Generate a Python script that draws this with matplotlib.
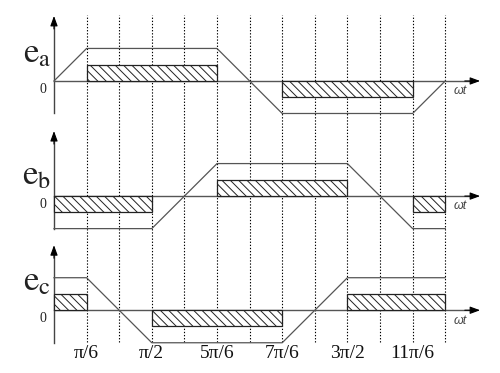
import numpy as np
import matplotlib
matplotlib.use('Agg')
import matplotlib.pyplot as plt
from matplotlib.patches import Rectangle

plt.rcParams['mathtext.fontset'] = 'stix'
plt.rcParams['hatch.linewidth'] = 0.7

# back-emf corners, x in units of pi/6, y in units of E
ea_t = [0, 1, 5, 7, 11, 12]
ea_v = [0, 1, 1, -1, -1, 0]
eb_t = [0, 3, 5, 9, 11, 12]
eb_v = [-1, -1, 1, 1, -1, -1]
ec_t = [0, 1, 3, 7, 9, 12]
ec_v = [1, 1, -1, -1, 1, 1]

# phase current blocks: (start, end, level)
ia = [(1, 5, 0.5), (7, 11, -0.5)]
ib = [(0, 3, -0.5), (5, 9, 0.5), (11, 12, -0.5)]
ic = [(0, 1, 0.5), (3, 7, -0.5), (9, 12, 0.5)]

names = [r'$\mathrm{e}_\mathrm{a}$', r'$\mathrm{e}_\mathrm{b}$', r'$\mathrm{e}_\mathrm{c}$']
name_y = [0.9, 0.68, 0.92]
offsets = [0, -3.54, -7.05]

tick_k = [1, 3, 5, 7, 9, 11]
tick_lbl = ['π/6', 'π/2', '5π/6', '7π/6', '3π/2', '11π/6']

fig = plt.figure(figsize=(5, 3.73), dpi=100)
ax = fig.add_axes([0, 0, 1, 1])
ax.set_xlim(-1.656, 13.68)
ax.set_ylim(-8.98, 2.49)
ax.axis('off')

# dotted grid lines
for k in range(1, 13):
    ax.plot([k, k], [-8.03, 2.03], color='k', ls=(0, (1.2, 1.6)), lw=0.8)

waves = [(ea_t, ea_v, ia), (eb_t, eb_v, ib), (ec_t, ec_v, ic)]
for i, (t, v, cur) in enumerate(waves):
    off = offsets[i]
    # axes with arrows
    ax.plot([0, 0], [off - 1, off + 1.85], color='#444', lw=1)
    ax.annotate('', xy=(0, off + 2.0), xytext=(0, off + 1.6),
                arrowprops=dict(arrowstyle='-|>,head_length=0.6,head_width=0.22',
                                color='k', lw=0.8, shrinkA=0, shrinkB=0))
    ax.plot([0, 12.9], [off, off], color='#555', lw=1)
    ax.annotate('', xy=(13.07, off), xytext=(12.6, off),
                arrowprops=dict(arrowstyle='-|>,head_length=0.6,head_width=0.22',
                                color='k', lw=0.8, shrinkA=0, shrinkB=0))
    # current blocks
    for s, e, lv in cur:
        ax.add_patch(Rectangle((s, off + min(0, lv)), e - s, abs(lv),
                               facecolor='white', edgecolor='#222', lw=0.9,
                               hatch='\\\\\\\\', zorder=3))
    # emf
    ax.plot(t, np.array(v) + off, color='#555', lw=0.9, zorder=4)
    ax.text(-0.52, off + name_y[i], names[i], fontsize=25, ha='center', va='center',
            color='#222')
    ax.text(-0.34, off - 0.25, '0', fontsize=10, ha='center', va='center',
            family='Liberation Serif', color='#222')
    ax.text(12.45, off - 0.32, 'ωt', fontsize=9, ha='center', va='center',
            family='Liberation Sans', style='italic', color='#444')

for k, lb in zip(tick_k, tick_lbl):
    ax.text(k, -8.37, lb, fontsize=14, ha='center', va='center',
            family='Liberation Serif', color='#111')

fig.savefig('out.png', dpi=100)
